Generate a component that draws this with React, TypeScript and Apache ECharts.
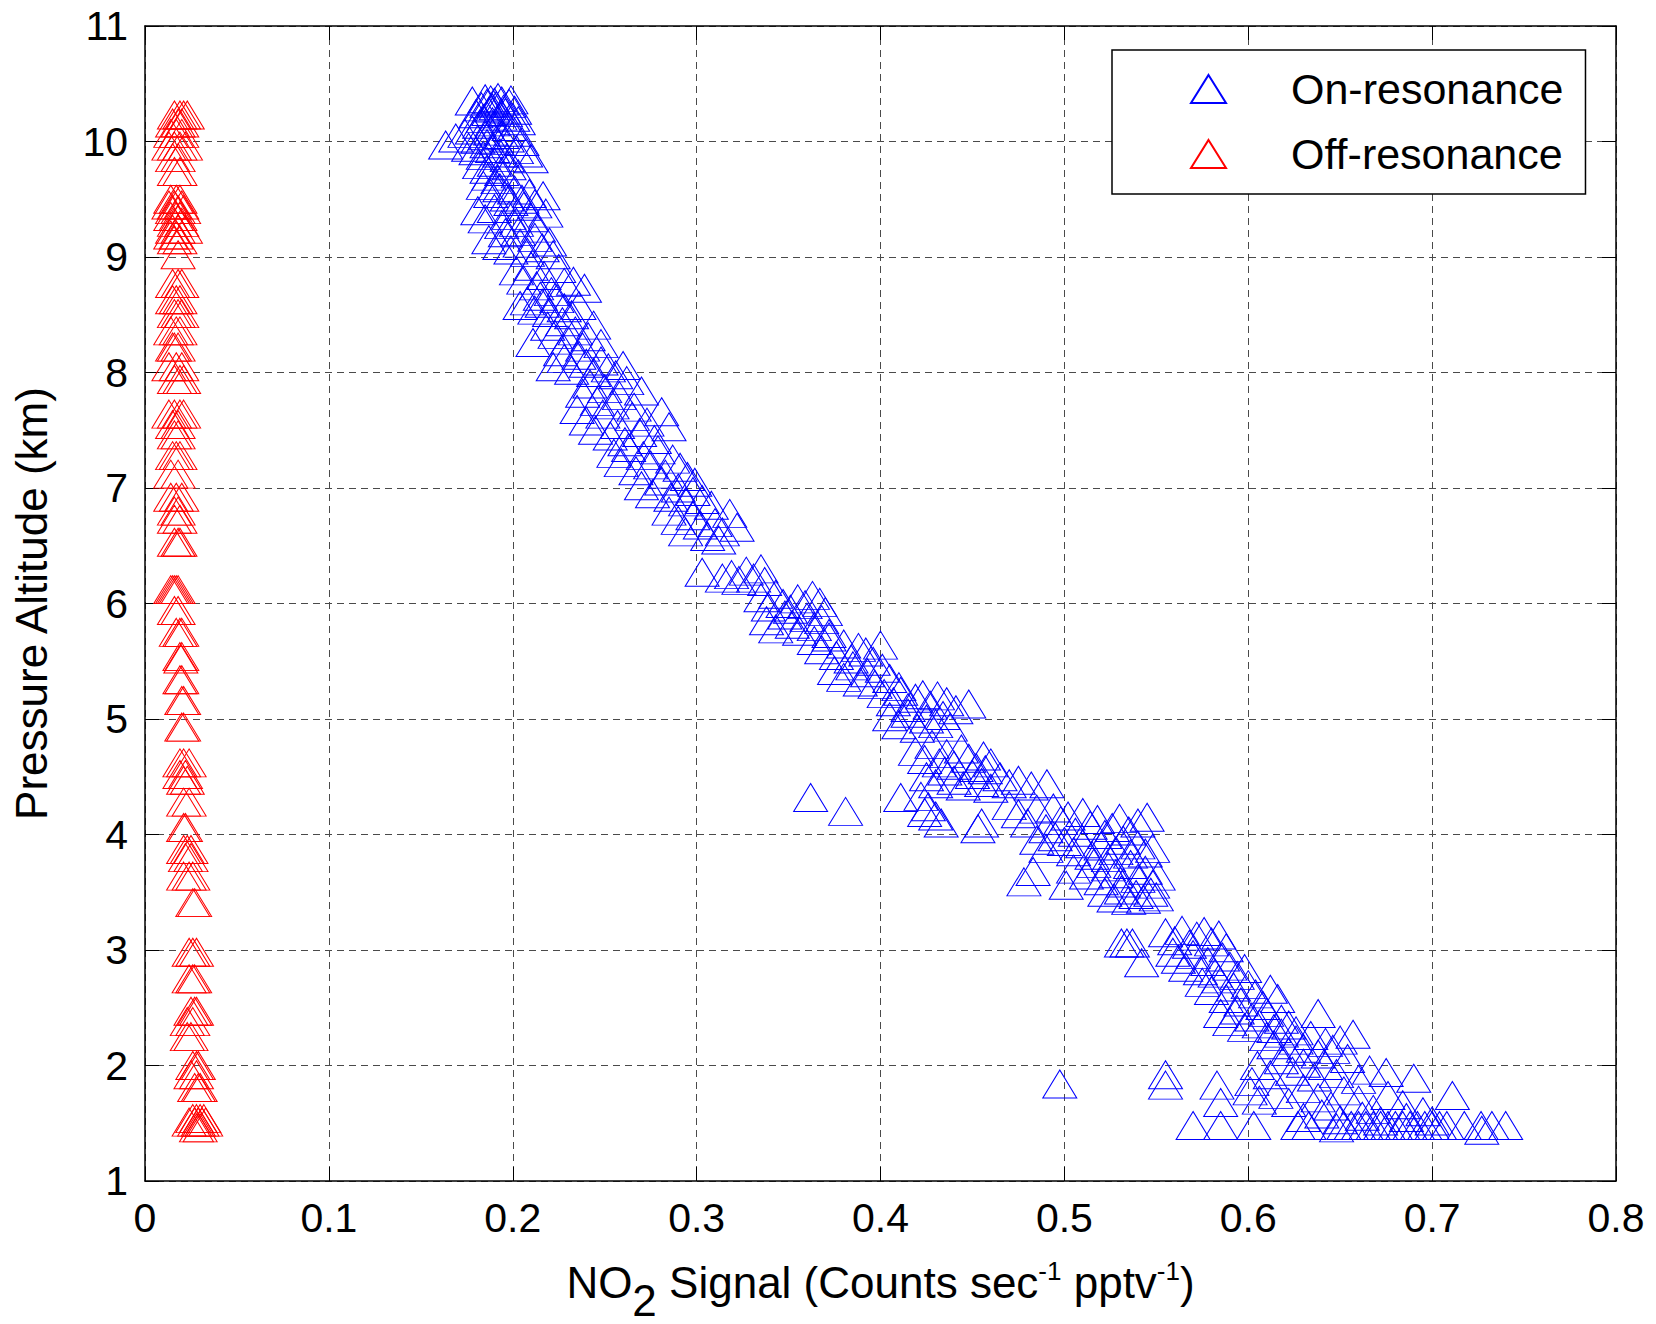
import React, { useEffect, useRef } from "react";
import * as echarts from "echarts";

const FONT = '"Liberation Sans", Arial, Helvetica, sans-serif';

const seriesNames = ["On-resonance", "Off-resonance"];
const xTitle = "{a|NO}{sub|2}{a| Signal (Counts sec}{sup|-1}{a| pptv}{sup|-1}{a|)}";
const yTitle = "Pressure Altitude (km)";

// On-resonance: [NO2 signal, pressure altitude km]
const onResonance: number[][] = [
  [0.178, 10.35], [0.185, 10.37], [0.186, 10.33], [0.188, 10.36], [0.19, 10.34], [0.192, 10.38], [0.194, 10.35],
  [0.198, 10.33], [0.199, 10.36], [0.183, 10.3], [0.189, 10.29], [0.195, 10.28], [0.201, 10.27], [0.191, 10.31],
  [0.18, 10.24], [0.184, 10.2], [0.187, 10.26], [0.193, 10.22], [0.196, 10.25], [0.2, 10.21], [0.203, 10.18],
  [0.182, 10.15], [0.189, 10.17], [0.198, 10.13],
  [0.169, 10.03], [0.174, 10.07], [0.178, 10.1], [0.181, 10.02], [0.185, 10.05], [0.188, 10.09], [0.191, 10.01],
  [0.194, 10.06], [0.197, 10.03], [0.201, 10.08], [0.205, 10.0], [0.186, 9.98],
  [0.1635, 9.97], [0.176, 9.95], [0.18, 9.92], [0.184, 9.88], [0.189, 9.94], [0.193, 9.9], [0.197, 9.86],
  [0.202, 9.93], [0.207, 9.9], [0.21, 9.85],
  [0.182, 9.8], [0.186, 9.76], [0.19, 9.82], [0.194, 9.74], [0.198, 9.79], [0.203, 9.72], [0.187, 9.7], [0.192, 9.67],
  [0.184, 9.62], [0.188, 9.55], [0.193, 9.6], [0.197, 9.52], [0.201, 9.58], [0.205, 9.5], [0.209, 9.55],
  [0.2165, 9.53], [0.212, 9.46], [0.199, 9.48],
  [0.181, 9.4], [0.185, 9.33], [0.19, 9.42], [0.194, 9.28], [0.198, 9.36], [0.202, 9.3], [0.206, 9.44],
  [0.21, 9.34], [0.214, 9.25], [0.218, 9.38], [0.203, 9.22], [0.196, 9.21],
  [0.187, 9.15], [0.193, 9.1], [0.199, 9.06], [0.204, 9.12], [0.208, 9.04], [0.212, 9.17], [0.216, 9.08],
  [0.22, 9.13], [0.222, 9.02],
  [0.202, 8.88], [0.206, 8.8], [0.21, 8.92], [0.213, 8.75], [0.217, 8.84], [0.221, 8.7], [0.225, 8.9],
  [0.228, 8.78], [0.233, 8.79], [0.239, 8.73], [0.215, 8.66],
  [0.204, 8.58], [0.208, 8.62], [0.212, 8.54], [0.216, 8.6], [0.22, 8.52], [0.224, 8.64], [0.228, 8.56],
  [0.232, 8.5], [0.236, 8.58],
  [0.211, 8.26],
  [0.219, 8.4], [0.223, 8.33], [0.227, 8.44], [0.23, 8.28], [0.234, 8.36], [0.238, 8.22], [0.241, 8.31],
  [0.244, 8.41], [0.248, 8.25], [0.226, 8.18],
  [0.222, 8.05], [0.228, 8.12], [0.232, 8.02], [0.236, 8.15], [0.24, 8.08], [0.244, 8.0], [0.248, 8.1],
  [0.252, 8.04], [0.256, 7.98], [0.26, 8.06],
  [0.235, 7.68], [0.238, 7.82], [0.242, 7.9], [0.246, 7.75], [0.25, 7.86], [0.254, 7.72], [0.258, 7.8],
  [0.262, 7.93], [0.266, 7.7], [0.27, 7.84],
  [0.24, 7.58], [0.245, 7.5], [0.249, 7.64], [0.253, 7.45], [0.257, 7.55], [0.261, 7.4], [0.265, 7.62],
  [0.269, 7.48], [0.273, 7.57], [0.277, 7.42], [0.285, 7.53], [0.281, 7.66],
  [0.255, 7.3], [0.259, 7.22], [0.263, 7.35], [0.267, 7.15], [0.271, 7.28], [0.275, 7.2], [0.279, 7.33],
  [0.283, 7.12], [0.287, 7.25], [0.291, 7.18], [0.295, 7.1], [0.299, 7.05],
  [0.27, 7.02], [0.276, 6.95], [0.281, 7.06], [0.286, 6.92], [0.29, 7.0], [0.294, 6.88], [0.298, 6.97],
  [0.303, 6.9], [0.308, 6.85],
  [0.285, 6.8], [0.29, 6.72], [0.294, 6.62], [0.298, 6.76], [0.302, 6.68], [0.306, 6.58], [0.31, 6.7],
  [0.314, 6.62], [0.318, 6.78], [0.322, 6.66], [0.312, 6.55],
  [0.303, 6.27],
  [0.314, 6.22], [0.319, 6.25], [0.323, 6.2], [0.327, 6.28], [0.331, 6.22], [0.335, 6.3], [0.337, 6.19],
  [0.335, 6.05], [0.339, 5.97], [0.343, 6.08], [0.347, 6.0], [0.351, 5.95], [0.355, 6.04], [0.359, 5.99],
  [0.363, 6.07], [0.367, 6.01], [0.37, 5.93],
  [0.338, 5.85], [0.343, 5.78], [0.348, 5.9], [0.352, 5.82], [0.356, 5.76], [0.36, 5.88], [0.364, 5.8],
  [0.368, 5.86], [0.372, 5.74],
  [0.364, 5.68], [0.368, 5.6], [0.372, 5.71], [0.376, 5.55], [0.38, 5.65], [0.384, 5.52], [0.388, 5.62],
  [0.392, 5.58], [0.396, 5.5], [0.4, 5.64],
  [0.375, 5.42], [0.38, 5.36], [0.385, 5.46], [0.389, 5.32], [0.393, 5.4], [0.397, 5.3], [0.401, 5.44],
  [0.405, 5.35], [0.41, 5.28],
  [0.402, 5.22], [0.407, 5.15], [0.411, 5.24], [0.415, 5.1], [0.419, 5.18], [0.423, 5.21], [0.427, 5.12],
  [0.431, 5.2], [0.436, 5.15], [0.441, 5.08], [0.448, 5.13],
  [0.405, 5.02], [0.41, 4.95], [0.415, 5.05], [0.42, 4.92], [0.425, 5.0], [0.43, 4.96], [0.434, 5.03], [0.438, 4.93],
  [0.419, 4.72], [0.424, 4.65], [0.428, 4.78], [0.432, 4.62], [0.436, 4.7], [0.44, 4.6], [0.444, 4.74],
  [0.448, 4.66], [0.452, 4.58], [0.456, 4.68], [0.46, 4.62],
  [0.425, 4.5], [0.43, 4.44], [0.435, 4.55], [0.44, 4.47], [0.445, 4.42], [0.45, 4.52], [0.455, 4.45],
  [0.46, 4.4], [0.465, 4.5], [0.47, 4.44], [0.475, 4.47], [0.482, 4.42], [0.4905, 4.44], [0.457, 4.56],
  [0.362, 4.32], [0.381, 4.2], [0.411, 4.32], [0.422, 4.33], [0.426, 4.24], [0.43, 4.16], [0.433, 4.1],
  [0.424, 4.19], [0.453, 4.05], [0.455, 4.1],
  [0.47, 4.25], [0.475, 4.18], [0.48, 4.1], [0.485, 4.22], [0.49, 4.05], [0.494, 4.23], [0.498, 4.12],
  [0.502, 4.16], [0.506, 4.02], [0.51, 4.19], [0.514, 4.08], [0.518, 4.13], [0.522, 4.0], [0.526, 4.06],
  [0.53, 4.14], [0.535, 4.03], [0.54, 4.1], [0.545, 4.15],
  [0.485, 3.95], [0.49, 3.88], [0.495, 3.98], [0.5, 3.94], [0.505, 3.85], [0.51, 3.92], [0.515, 3.82],
  [0.52, 3.9], [0.524, 3.8], [0.528, 3.86], [0.532, 3.95], [0.536, 3.83], [0.54, 3.91], [0.544, 3.84], [0.548, 3.88],
  [0.478, 3.59], [0.483, 3.68], [0.501, 3.56], [0.505, 3.7], [0.512, 3.65], [0.516, 3.75], [0.52, 3.6],
  [0.524, 3.72], [0.528, 3.66], [0.532, 3.58], [0.536, 3.74], [0.54, 3.62], [0.544, 3.69], [0.548, 3.57], [0.551, 3.64],
  [0.522, 3.5], [0.527, 3.45], [0.531, 3.52], [0.535, 3.43], [0.539, 3.48], [0.543, 3.44], [0.547, 3.5], [0.55, 3.46],
  [0.531, 3.06], [0.534, 3.06], [0.537, 3.06], [0.542, 2.89],
  [0.555, 3.15], [0.56, 3.08], [0.564, 3.17], [0.568, 3.05], [0.572, 3.12], [0.576, 3.16], [0.58, 3.07],
  [0.584, 3.13], [0.588, 3.02], [0.559, 2.98],
  [0.562, 2.92], [0.566, 2.85], [0.57, 2.96], [0.574, 2.82], [0.578, 2.9], [0.582, 2.8], [0.586, 2.94],
  [0.59, 2.86], [0.594, 2.78], [0.598, 2.84],
  [0.575, 2.72], [0.58, 2.65], [0.584, 2.75], [0.588, 2.58], [0.592, 2.68], [0.596, 2.55], [0.6, 2.7],
  [0.604, 2.62], [0.608, 2.52], [0.612, 2.66], [0.616, 2.58],
  [0.585, 2.45], [0.59, 2.38], [0.594, 2.48], [0.598, 2.33], [0.602, 2.42], [0.606, 2.36], [0.61, 2.46],
  [0.614, 2.32], [0.618, 2.4], [0.622, 2.35], [0.638, 2.45], [0.626, 2.3],
  [0.61, 2.25], [0.614, 2.18], [0.618, 2.28], [0.622, 2.12], [0.626, 2.22], [0.63, 2.15], [0.634, 2.26],
  [0.638, 2.1], [0.642, 2.2], [0.646, 2.14], [0.657, 2.27], [0.65, 2.22],
  [0.605, 2.0], [0.612, 1.92], [0.618, 2.05], [0.624, 1.95], [0.63, 2.02], [0.636, 1.9], [0.642, 2.0],
  [0.648, 1.93], [0.654, 2.06], [0.66, 1.88], [0.666, 1.96], [0.675, 1.94], [0.69, 1.89], [0.602, 1.86],
  [0.555, 1.92], [0.555, 1.83], [0.4975, 1.84], [0.583, 1.83], [0.585, 1.68], [0.601, 1.78], [0.606, 1.7],
  [0.615, 1.75], [0.622, 1.68], [0.63, 1.8], [0.638, 1.72], [0.645, 1.65], [0.652, 1.78], [0.66, 1.7],
  [0.668, 1.62], [0.676, 1.74], [0.684, 1.66], [0.711, 1.74], [0.695, 1.6],
  [0.63, 1.55], [0.64, 1.58], [0.65, 1.53], [0.662, 1.56], [0.672, 1.52], [0.686, 1.55], [0.7, 1.52],
  [0.57, 1.48], [0.585, 1.48], [0.603, 1.48], [0.627, 1.48], [0.633, 1.48], [0.648, 1.46], [0.652, 1.48],
  [0.656, 1.48], [0.66, 1.48], [0.664, 1.48], [0.668, 1.48], [0.672, 1.48], [0.676, 1.48], [0.68, 1.48],
  [0.684, 1.48], [0.688, 1.48], [0.692, 1.48], [0.696, 1.48], [0.7, 1.48], [0.704, 1.48], [0.708, 1.48],
  [0.7175, 1.48], [0.7266, 1.48], [0.7325, 1.48], [0.74, 1.48], [0.727, 1.44],
];

// Off-resonance: [NO2 signal, pressure altitude km]
const offResonance: number[][] = [
  [0.016, 10.23], [0.019, 10.23], [0.021, 10.23], [0.023, 10.23],
  [0.015, 10.16], [0.018, 10.16], [0.02, 10.16],
  [0.014, 10.07], [0.017, 10.07], [0.02, 10.07],
  [0.013, 9.96], [0.016, 9.96], [0.019, 9.96], [0.022, 9.96],
  [0.015, 9.86], [0.018, 9.86],
  [0.016, 9.74], [0.019, 9.74],
  [0.014, 9.5], [0.017, 9.5], [0.019, 9.5],
  [0.013, 9.45], [0.016, 9.45], [0.02, 9.45],
  [0.015, 9.41], [0.018, 9.41], [0.021, 9.41],
  [0.014, 9.35], [0.017, 9.35], [0.019, 9.35],
  [0.016, 9.3], [0.02, 9.3],
  [0.015, 9.24], [0.018, 9.24], [0.022, 9.24],
  [0.014, 9.19], [0.017, 9.19],
  [0.016, 9.15], [0.019, 9.15],
  [0.018, 9.02],
  [0.015, 8.77], [0.018, 8.77], [0.02, 8.77],
  [0.015, 8.63], [0.017, 8.63], [0.019, 8.63],
  [0.016, 8.51], [0.018, 8.51], [0.02, 8.51],
  [0.014, 8.36], [0.017, 8.36], [0.019, 8.36],
  [0.015, 8.22], [0.016, 8.22], [0.018, 8.22],
  [0.013, 8.05], [0.017, 8.05], [0.02, 8.05],
  [0.016, 7.94], [0.019, 7.94], [0.021, 7.94],
  [0.013, 7.64], [0.016, 7.64], [0.019, 7.64], [0.021, 7.64],
  [0.015, 7.55], [0.018, 7.55],
  [0.016, 7.46], [0.018, 7.46],
  [0.015, 7.28], [0.017, 7.28], [0.019, 7.28],
  [0.014, 7.12], [0.018, 7.12],
  [0.014, 6.92], [0.017, 6.92], [0.02, 6.92],
  [0.016, 6.8], [0.018, 6.8],
  [0.016, 6.73], [0.019, 6.73],
  [0.016, 6.53], [0.018, 6.53], [0.019, 6.53],
  [0.014, 6.12], [0.015, 6.12], [0.016, 6.12], [0.017, 6.12], [0.018, 6.12],
  [0.016, 5.94], [0.018, 5.94],
  [0.017, 5.75], [0.019, 5.75], [0.02, 5.75],
  [0.019, 5.54], [0.02, 5.54], [0.0195, 5.52],
  [0.019, 5.34], [0.02, 5.34],
  [0.02, 5.16], [0.021, 5.16],
  [0.02, 4.93], [0.021, 4.93],
  [0.019, 4.62], [0.021, 4.62], [0.024, 4.62],
  [0.019, 4.52], [0.022, 4.52],
  [0.021, 4.47], [0.023, 4.47],
  [0.021, 4.28], [0.024, 4.28],
  [0.021, 4.06], [0.022, 4.06],
  [0.021, 3.87], [0.023, 3.87], [0.025, 3.87],
  [0.022, 3.8], [0.025, 3.8],
  [0.021, 3.64], [0.024, 3.64], [0.026, 3.64],
  [0.026, 3.41], [0.027, 3.41],
  [0.024, 2.98], [0.026, 2.98], [0.028, 2.98],
  [0.024, 2.75], [0.026, 2.75], [0.027, 2.75],
  [0.025, 2.47], [0.027, 2.47], [0.028, 2.47],
  [0.023, 2.38], [0.026, 2.38],
  [0.023, 2.25], [0.025, 2.25],
  [0.026, 2.0], [0.028, 2.0], [0.029, 2.0],
  [0.025, 1.92], [0.028, 1.92],
  [0.027, 1.81], [0.029, 1.81], [0.03, 1.81],
  [0.026, 1.54], [0.028, 1.54], [0.03, 1.54], [0.032, 1.54],
  [0.024, 1.51], [0.027, 1.51], [0.029, 1.51], [0.031, 1.51], [0.033, 1.51],
  [0.028, 1.46], [0.03, 1.46],
];

const seriesColors = ["#0000ff", "#ff0000"];

export default function App() {
  const ref = useRef<HTMLDivElement>(null);

  useEffect(() => {
    if (!ref.current) return;
    const chart = echarts.init(ref.current, undefined, { renderer: "svg" });

    const boxAxisLine = { show: true, onZero: false, lineStyle: { color: "#000", width: 1.5 } };
    const boxTick = { show: true, inside: true, length: 14, lineStyle: { color: "#000", width: 1 } };
    const gridLine = { show: true, lineStyle: { color: "#4a4a4a", width: 1, type: [7, 5] } };

    const option: any = {
      animation: false,
      backgroundColor: "#ffffff",
      textStyle: { fontFamily: FONT },
      grid: { left: 145, top: 26, right: 40, bottom: 143, containLabel: false, outerBoundsMode: "none" },
      legend: {
        show: true,
        orient: "vertical",
        left: 1112,
        top: 50,
        data: seriesNames,
        icon: "triangle",
        itemWidth: 35,
        itemHeight: 28,
        itemGap: 21,
        symbolKeepAspect: false,
        padding: [17, 22, 18, 78],
        borderColor: "#000",
        borderWidth: 1.5,
        backgroundColor: "#ffffff",
        selectedMode: false,
        textStyle: { fontSize: 43, fontFamily: FONT, color: "#000", lineHeight: 44, padding: [0, 0, 0, 60] },
      },
      xAxis: [
        {
          type: "value",
          position: "bottom",
          min: 0,
          max: 0.8,
          interval: 0.1,
          axisLine: boxAxisLine,
          axisTick: boxTick,
          splitLine: gridLine,
          axisLabel: {
            fontSize: 41,
            color: "#000",
            fontFamily: FONT,
            margin: 16,
            formatter: (v: number) => String(Number(v.toFixed(1))),
          },
          name: xTitle,
          nameLocation: "middle",
          nameGap: 56,
          nameTextStyle: {
            fontFamily: FONT,
            color: "#000",
            fontSize: 44,
            rich: {
              a: { fontFamily: FONT, color: "#000", fontSize: 44, lineHeight: 44, verticalAlign: "middle" },
              sub: { fontFamily: FONT, color: "#000", fontSize: 44, lineHeight: 80, verticalAlign: "bottom" },
              sup: {
                fontFamily: FONT,
                color: "#000",
                fontSize: 26,
                lineHeight: 26,
                verticalAlign: "top",
                padding: [15, 0, 0, 0],
              },
            },
          },
        },
        {
          type: "value",
          position: "top",
          min: 0,
          max: 0.8,
          interval: 0.1,
          axisLine: boxAxisLine,
          axisTick: boxTick,
          splitLine: { show: false },
          axisLabel: { show: false },
        },
      ],
      yAxis: [
        {
          type: "value",
          position: "left",
          min: 1,
          max: 11,
          interval: 1,
          axisLine: boxAxisLine,
          axisTick: boxTick,
          splitLine: gridLine,
          axisLabel: { fontSize: 41, color: "#000", fontFamily: FONT, margin: 17 },
          name: yTitle,
          nameLocation: "middle",
          nameGap: 92,
          nameTextStyle: { fontFamily: FONT, color: "#000", fontSize: 44 },
        },
        {
          type: "value",
          position: "right",
          min: 1,
          max: 11,
          interval: 1,
          axisLine: boxAxisLine,
          axisTick: boxTick,
          splitLine: { show: false },
          axisLabel: { show: false },
        },
      ],
      series: [
        {
          type: "scatter",
          name: seriesNames[0],
          data: onResonance,
          xAxisIndex: 0,
          yAxisIndex: 0,
          symbol: "triangle",
          symbolSize: [34, 28],
          itemStyle: { color: "rgba(255,255,255,0)", borderColor: seriesColors[0], borderWidth: 1, opacity: 1 },
          emphasis: { disabled: true },
        },
        {
          type: "scatter",
          name: seriesNames[1],
          data: offResonance,
          xAxisIndex: 0,
          yAxisIndex: 0,
          symbol: "triangle",
          symbolSize: [34, 28],
          itemStyle: { color: "rgba(255,255,255,0)", borderColor: seriesColors[1], borderWidth: 1, opacity: 1 },
          emphasis: { disabled: true },
        },
      ],
    };

    chart.setOption(option);
    return () => chart.dispose();
  }, []);

  return (
    <div
      ref={ref}
      style={{ position: "absolute", left: 0, top: 0, width: 1656, height: 1324, background: "#fff" }}
    />
  );
}
